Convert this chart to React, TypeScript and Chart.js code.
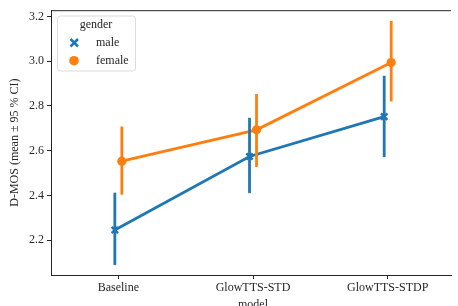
import React, { useEffect, useRef } from "react";
import { Chart, registerables } from "chart.js";

Chart.register(...registerables);

const categories = ["Baseline", "GlowTTS-STD", "GlowTTS-STDP"];
const hues = ["male", "female"];
const maleMean = [2.245, 2.574, 2.752];
const maleLow = [2.089, 2.41, 2.571];
const maleHigh = [2.412, 2.747, 2.935];
const femaleMean = [2.553, 2.693, 2.994];
const femaleLow = [2.403, 2.527, 2.82];
const femaleHigh = [2.708, 2.853, 3.18];
const yTicks = [2.2, 2.4, 2.6, 2.8, 3.0, 3.2];

const BLUE = "#1f77b4";
const ORANGE = "#ff7f0e";
const FONT = "'Liberation Serif', 'DejaVu Serif', serif";
const DODGE = 0.026;

export default function App() {
  const ref = useRef<HTMLCanvasElement | null>(null);
  useEffect(() => {
    const canvas = ref.current!;
    const mkPts = (arr: number[], off: number) => arr.map((v, i) => ({ x: i + off, y: v }));
    const errPlugin = {
      id: "errbars",
      afterDatasetsDraw(chart: any) {
        const { ctx, scales } = chart;
        const xs = scales.x, ys = scales.y;
        const draw = (lo: number[], hi: number[], off: number, color: string) => {
          ctx.save();
          ctx.strokeStyle = color;
          ctx.lineWidth = 2.8;
          lo.forEach((l, i) => {
            const px = xs.getPixelForValue(i + off);
            ctx.beginPath();
            ctx.moveTo(px, ys.getPixelForValue(l));
            ctx.lineTo(px, ys.getPixelForValue(hi[i]));
            ctx.stroke();
          });
          ctx.restore();
        };
        draw(maleLow, maleHigh, -DODGE, BLUE);
        draw(femaleLow, femaleHigh, DODGE, ORANGE);
      },
    };
    const framePlugin = {
      id: "frame",
      afterDraw(chart: any) {
        const { ctx, chartArea } = chart;
        ctx.save();
        ctx.strokeStyle = "#262626";
        ctx.lineWidth = 1;
        ctx.beginPath();
        ctx.moveTo(chartArea.left, chartArea.top + 0.5);
        ctx.lineTo(chartArea.right, chartArea.top + 0.5);
        ctx.stroke();
        // y label
        ctx.fillStyle = "#262626";
        ctx.font = `12px ${FONT}`;
        ctx.textAlign = "center";
        ctx.textBaseline = "middle";
        ctx.save();
        ctx.translate(15, (chartArea.top + chartArea.bottom) / 2);
        ctx.rotate(-Math.PI / 2);
        ctx.fillText("D-MOS (mean \u00b1 95 % CI)", 0, 0);
        ctx.restore();
        // x label
        ctx.textBaseline = "top";
        ctx.fillText("model", chart.scales.x.getPixelForValue(1), 299);
        // legend
        const lx = 57, ly = 15.5, lw = 78, lh = 55;
        ctx.fillStyle = "rgba(255,255,255,0.8)";
        ctx.strokeStyle = "#dcdcdc";
        ctx.lineWidth = 1;
        ctx.beginPath();
        ctx.roundRect(lx + 0.5, ly + 0.5, lw, lh, 3);
        ctx.fill();
        ctx.stroke();
        ctx.fillStyle = "#262626";
        ctx.textAlign = "center";
        ctx.textBaseline = "middle";
        ctx.fillText("gender", lx + lw / 2, 25);
        ctx.textAlign = "left";
        ctx.fillText(hues[0], 96, 43);
        ctx.fillText(hues[1], 96, 61);
        // male x marker
        ctx.strokeStyle = BLUE;
        ctx.lineWidth = 2.5;
        ctx.beginPath();
        ctx.moveTo(70.5, 39);
        ctx.lineTo(78, 46.5);
        ctx.moveTo(78, 39);
        ctx.lineTo(70.5, 46.5);
        ctx.stroke();
        ctx.fillStyle = ORANGE;
        ctx.beginPath();
        ctx.arc(74, 60.7, 4.8, 0, Math.PI * 2);
        ctx.fill();
        ctx.restore();
      },
    };
    const chart = new Chart(canvas, {
      type: "line",
      data: {
        datasets: [
          {
            label: hues[0],
            data: mkPts(maleMean, -DODGE),
            borderColor: BLUE,
            backgroundColor: BLUE,
            borderWidth: 2.8,
            pointStyle: "crossRot",
            pointRadius: 4.5,
            pointBorderWidth: 2.5,
            pointBorderColor: BLUE,
          },
          {
            label: hues[1],
            data: mkPts(femaleMean, DODGE),
            borderColor: ORANGE,
            backgroundColor: ORANGE,
            borderWidth: 2.8,
            pointStyle: "circle",
            pointRadius: 4.6,
            pointBorderWidth: 0,
          },
        ],
      },
      options: {
        animation: false,
        responsive: false,
        events: [],
        layout: { padding: { top: 9, right: 0, left: 0, bottom: 0 } },
        plugins: { legend: { display: false }, tooltip: { enabled: false } },
        scales: {
          x: {
            type: "linear",
            min: -0.5,
            max: 2.47,
            afterBuildTicks: (s: any) => {
              s.ticks = categories.map((_, i) => ({ value: i }));
            },
            afterFit: (s: any) => {
              s.height = 31;
            },
            ticks: {
              callback: (v: any) => categories[v] ?? "",
              color: "#262626",
              font: { family: FONT, size: 12 },
              padding: 2,
              maxRotation: 0,
              autoSkip: false,
            },
            grid: { drawOnChartArea: false, drawTicks: true, tickLength: 4, color: "#262626" },
            border: { display: true, color: "#262626", width: 1 },
          },
          y: {
            type: "linear",
            min: 2.044,
            max: 3.228,
            afterBuildTicks: (s: any) => {
              s.ticks = yTicks.map((v) => ({ value: v }));
            },
            afterFit: (s: any) => {
              s.width = 51;
            },
            ticks: {
              callback: (v: any) => Number(v).toFixed(1),
              color: "#262626",
              font: { family: FONT, size: 12 },
              padding: 3,
            },
            grid: { drawOnChartArea: false, drawTicks: true, tickLength: 4, color: "#262626" },
            border: { display: true, color: "#262626", width: 1 },
          },
        },
      },
      plugins: [errPlugin, framePlugin],
    } as any);
    return () => chart.destroy();
  }, []);
  return (
    <div style={{ position: "fixed", left: 0, top: 0, width: 458, height: 306, background: "#fff" }}>
      <canvas ref={ref} width={458} height={306} style={{ width: 458, height: 306 }} />
    </div>
  );
}
